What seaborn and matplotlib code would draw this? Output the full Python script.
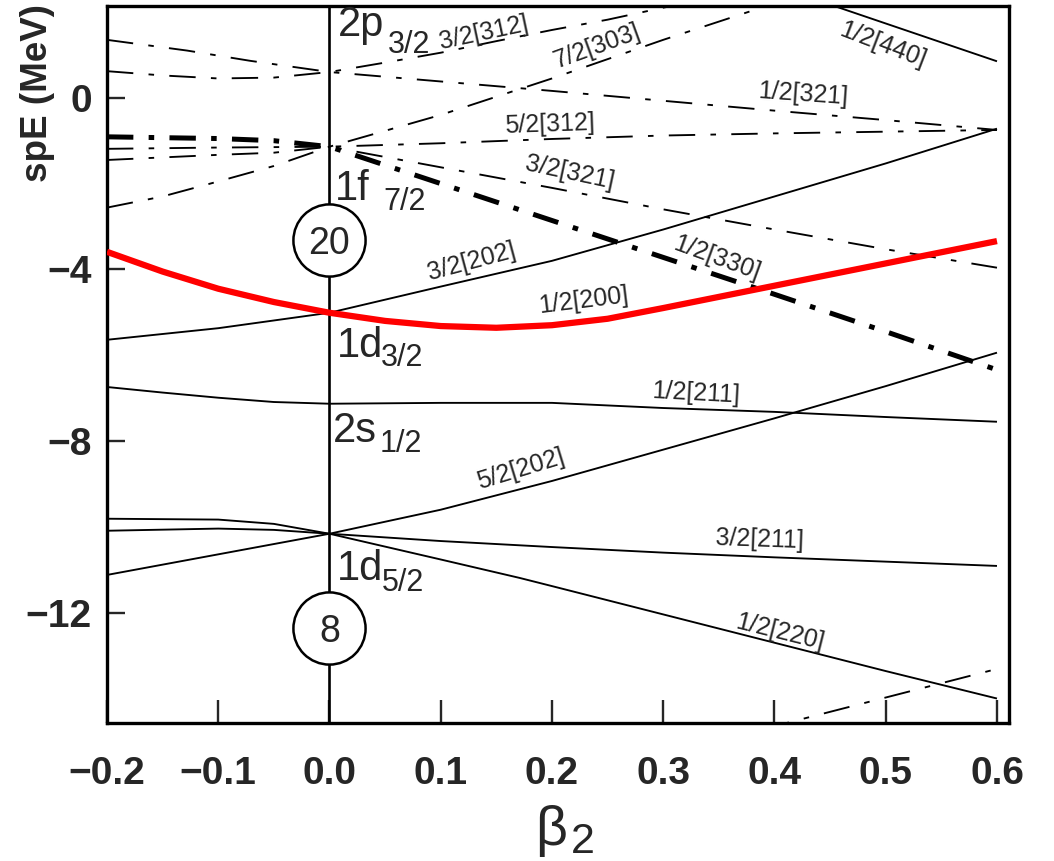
import matplotlib
matplotlib.use("Agg")
import matplotlib.pyplot as plt
import seaborn as sns

# ---------------- data ----------------
# N=2 (sd shell) positive parity orbitals
b_1_2_220 = [-0.2, -0.1, -0.05, 0.0, 0.1, 0.171, 0.2, 0.3, 0.4, 0.5, 0.6]
e_1_2_220 = [-9.81, -9.83, -9.93, -10.16, -10.76, -11.19, -11.38, -12.04, -12.70, -13.36, -14.00]

b_3_2_211 = [-0.2, -0.1, -0.05, 0.0, 0.1, 0.2, 0.3, 0.4, 0.5, 0.6]
e_3_2_211 = [-10.09, -10.04, -10.07, -10.16, -10.33, -10.47, -10.60, -10.71, -10.81, -10.91]

b_5_2_202 = [-0.2, -0.1, 0.0, 0.1, 0.2, 0.3, 0.4, 0.5, 0.6]
e_5_2_202 = [-11.12, -10.64, -10.16, -9.60, -8.93, -8.20, -7.47, -6.72, -5.94]

b_1_2_211 = [-0.2, -0.15, -0.1, -0.05, 0.0, 0.1, 0.2, 0.3, 0.4, 0.5, 0.6]
e_1_2_211 = [-6.74, -6.87, -6.99, -7.09, -7.13, -7.11, -7.11, -7.23, -7.32, -7.44, -7.55]

b_3_2_202 = [-0.2, -0.1, 0.0, 0.1, 0.2, 0.3, 0.4, 0.5, 0.6]
e_3_2_202 = [-5.64, -5.37, -5.01, -4.40, -3.80, -3.07, -2.30, -1.53, -0.72]

b_1_2_200 = [-0.2, -0.15, -0.1, -0.05, 0.0, 0.05, 0.1, 0.15, 0.2, 0.25, 0.3,
             0.35, 0.4, 0.45, 0.5, 0.55, 0.6]
e_1_2_200 = [-3.59, -4.05, -4.45, -4.76, -5.01, -5.20, -5.32, -5.36, -5.30, -5.15,
             -4.90, -4.64, -4.38, -4.12, -3.86, -3.60, -3.34]

b_1_2_440 = [0.44, 0.6]
e_1_2_440 = [2.26, 0.85]

# N=3 (fp shell) negative parity orbitals
b_1_2_330 = [-0.2, -0.1, -0.05, 0.0, 0.1, 0.2, 0.3, 0.4, 0.5, 0.6]
e_1_2_330 = [-0.91, -0.95, -1.00, -1.14, -2.00, -2.86, -3.72, -4.58, -5.45, -6.34]

b_3_2_321 = [-0.2, -0.1, 0.0, 0.1, 0.2, 0.3, 0.4, 0.5, 0.6]
e_3_2_321 = [-1.19, -1.16, -1.14, -1.62, -2.10, -2.60, -3.07, -3.53, -3.96]

b_5_2_312 = [-0.2, -0.1, -0.05, 0.0, 0.1, 0.2, 0.3, 0.4, 0.5, 0.6]
e_5_2_312 = [-1.45, -1.33, -1.28, -1.14, -1.06, -0.96, -0.88, -0.83, -0.79, -0.75]

b_7_2_303 = [-0.2, -0.15, -0.1, -0.05, 0.0, 0.1, 0.2, 0.3, 0.4, 0.45]
e_7_2_303 = [-2.56, -2.30, -1.95, -1.59, -1.14, -0.40, 0.45, 1.35, 2.20, 2.65]

b_3_2_312 = [-0.2, -0.15, -0.1, -0.05, 0.0, 0.05, 0.1, 0.15, 0.2, 0.25, 0.3, 0.35]
e_3_2_312 = [0.62, 0.52, 0.45, 0.47, 0.60, 0.82, 1.05, 1.32, 1.58, 1.82, 2.10, 2.35]

b_1_2_321 = [-0.2, -0.128, -0.071, 0.0, 0.1, 0.2, 0.3, 0.4, 0.5, 0.6]
e_1_2_321 = [1.35, 1.10, 0.86, 0.60, 0.38, 0.16, -0.07, -0.30, -0.52, -0.75]

b_low_dd = [0.39, 0.6]
e_low_dd = [-14.71, -13.31]

xtick_vals = [-0.2, -0.1, 0.0, 0.1, 0.2, 0.3, 0.4, 0.5, 0.6]
xtick_text = ["\u22120.2", "\u22120.1", "0.0", "0.1", "0.2", "0.3", "0.4", "0.5", "0.6"]
ytick_vals = [0, -4, -8, -12]
ytick_text = ["0", "\u22124", "\u22128", "\u221212"]

# orbital labels: text, beta, E, rotation
orbit_labels = [
    ("3/2[312]", 0.139, 1.52, 12),
    ("7/2[303]", 0.241, 1.21, 20),
    ("1/2[440]", 0.497, 1.24, -21),
    ("1/2[321]", 0.426, 0.09, -4),
    ("5/2[312]", 0.198, -0.63, 2),
    ("3/2[321]", 0.216, -1.75, -12),
    ("3/2[202]", 0.128, -3.82, 15),
    ("1/2[330]", 0.348, -3.73, -20),
    ("1/2[200]", 0.228, -4.73, 7),
    ("1/2[211]", 0.329, -6.88, -3),
    ("5/2[202]", 0.172, -8.67, 17),
    ("3/2[211]", 0.387, -10.30, -2),
    ("1/2[220]", 0.405, -12.45, -14),
]

# spherical shell labels: main, subscript, positions
shell_main = ["2p", "1f", "1d", "2s", "1d"]
shell_sub = ["3/2", "7/2", "3/2", "1/2", "5/2"]
shell_main_pos = [(0.0076, 1.45), (0.005, -2.38), (0.0067, -6.04), (0.003, -8.02), (0.0067, -11.24)]
shell_sub_pos = [(0.0526, 1.05), (0.048, -2.61), (0.046, -6.25), (0.045, -8.25), (0.047, -11.49)]

magic_numbers = ["20", "8"]
magic_E = [-3.31, -12.35]

# ---------------- style ----------------
sns.set_style("white")
plt.rcParams["font.family"] = ["Liberation Sans", "DejaVu Sans"]
plt.rcParams["lines.scale_dashes"] = False
plt.rcParams["lines.solid_capstyle"] = "butt"
plt.rcParams["lines.dash_capstyle"] = "butt"

fig = plt.figure(figsize=(10.54, 8.61), dpi=100)
ax = fig.add_axes([0.1015, 0.1603, 0.8558, 0.8328])

thin = 1.35
dashdot = (0, (19, 11, 4, 11))

solid_lines = [(b_1_2_220, e_1_2_220), (b_3_2_211, e_3_2_211), (b_5_2_202, e_5_2_202),
               (b_1_2_211, e_1_2_211), (b_3_2_202, e_3_2_202), (b_1_2_440, e_1_2_440)]
dd_lines = [(b_3_2_321, e_3_2_321), (b_5_2_312, e_5_2_312), (b_7_2_303, e_7_2_303),
            (b_3_2_312, e_3_2_312), (b_1_2_321, e_1_2_321), (b_low_dd, e_low_dd)]

ax.axvline(0.0, color="black", lw=1.9, zorder=1)

for b, e in solid_lines:
    sns.lineplot(x=b, y=e, ax=ax, color="black", linewidth=thin, sort=False,
                 estimator=None, zorder=2)
for b, e in dd_lines:
    sns.lineplot(x=b, y=e, ax=ax, color="black", linewidth=thin, linestyle=dashdot,
                 sort=False, estimator=None, zorder=2)
sns.lineplot(x=b_1_2_330, y=e_1_2_330, ax=ax, color="black", linewidth=3.6,
             linestyle=(0, (19, 11, 4, 11)), sort=False, estimator=None, zorder=3)
sns.lineplot(x=b_1_2_200, y=e_1_2_200, ax=ax, color="#ff0000", linewidth=4.5,
             sort=False, estimator=None, zorder=4)

# magic number circles
ax.scatter([0.0] * len(magic_E), magic_E, s=2700, facecolor="white",
           edgecolor="black", linewidth=1.8, zorder=5)
for t, e in zip(magic_numbers, magic_E):
    ax.text(0.0, e, t, ha="center", va="center_baseline", fontsize=27, zorder=6)

# shell labels
for m, s, pm, ps in zip(shell_main, shell_sub, shell_main_pos, shell_sub_pos):
    ax.text(pm[0], pm[1], m, ha="left", va="baseline", fontsize=30, zorder=6)
    ax.text(ps[0], ps[1], s, ha="left", va="baseline", fontsize=22, zorder=6)

# orbital labels
for t, b, e, r in orbit_labels:
    ax.text(b, e, t, ha="center", va="center", rotation=r, fontsize=18, zorder=6)

ax.set_xlim(-0.2, 0.6108)
ax.set_ylim(-14.57, 2.14)
ax.set_xticks(xtick_vals)
ax.set_xticklabels(xtick_text)
ax.set_yticks(ytick_vals)
ax.set_yticklabels(ytick_text)
ax.tick_params(axis="x", direction="in", length=16.5, width=1.7, pad=24,
               labelsize=28, bottom=True, top=False)
ax.tick_params(axis="y", direction="in", length=13, width=1.7, pad=11,
               labelsize=28, left=True, right=False)
for lbl in ax.get_xticklabels() + ax.get_yticklabels():
    lbl.set_fontweight("bold")
for sp in ax.spines.values():
    sp.set_linewidth(2.4)
    sp.set_color("black")
ax.set_xlabel("")
ax.set_ylabel("")

fig.text(38 / 1054, 1 - 93 / 861, "spE (MeV)", rotation=90, ha="center", va="center",
         fontsize=26.5, fontweight="bold")
fig.text(535 / 1054, 1 - 845 / 861, "\u03b2", ha="left", va="baseline", fontsize=40)
fig.text(571 / 1054, 1 - 853 / 861, "2", ha="left", va="baseline", fontsize=31)

fig.savefig("out.png", dpi=100, facecolor="white")
